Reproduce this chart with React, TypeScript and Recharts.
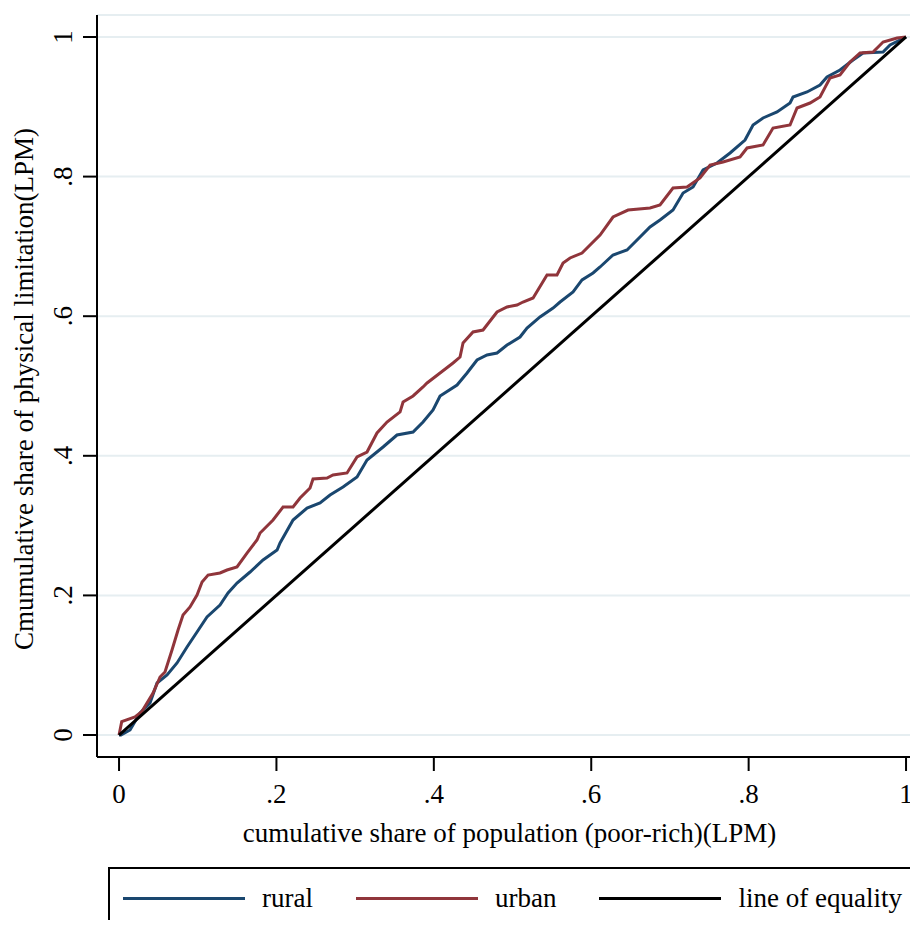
import React from 'react';
import { LineChart, Line, XAxis, YAxis, CartesianGrid } from 'recharts';

const tickValues = [0, 0.2, 0.4, 0.6, 0.8, 1];
const tickLabels = ['0', '.2', '.4', '.6', '.8', '1'];

const xTitle = 'cumulative share of population (poor-rich)(LPM)';
const yTitle = 'Cmumulative share of physical limitation(LPM)';

const ruralPoints: [number, number][] = [
  [0, 0], [0.0025, 0], [0.014, 0.0072], [0.0267, 0.0315], [0.0394, 0.0458], [0.0483, 0.0745],
  [0.061, 0.086], [0.0737, 0.1032], [0.0864, 0.1261], [0.0991, 0.1476], [0.1118, 0.1691],
  [0.1283, 0.1862], [0.1385, 0.2034], [0.1499, 0.2178], [0.1665, 0.2335], [0.183, 0.2507],
  [0.2008, 0.265], [0.2046, 0.2751], [0.2211, 0.308], [0.2389, 0.3252], [0.2554, 0.3324],
  [0.2681, 0.3438], [0.2846, 0.3553], [0.3024, 0.3696], [0.3151, 0.394], [0.3355, 0.4126],
  [0.3532, 0.4298], [0.3736, 0.4341], [0.3863, 0.4484], [0.399, 0.4656], [0.4079, 0.4857],
  [0.4295, 0.5014], [0.4422, 0.5186], [0.4549, 0.5372], [0.4676, 0.5444], [0.4803, 0.5473],
  [0.493, 0.5587], [0.5095, 0.5702], [0.5184, 0.5831], [0.5349, 0.5989], [0.5515, 0.6117],
  [0.5604, 0.6203], [0.5769, 0.6347], [0.5883, 0.6519], [0.6023, 0.6619], [0.6112, 0.6705],
  [0.6277, 0.6877], [0.6455, 0.6948], [0.662, 0.7135], [0.6747, 0.7278], [0.6874, 0.7378],
  [0.7039, 0.7521], [0.7167, 0.7765], [0.7294, 0.7851], [0.7421, 0.8095], [0.7598, 0.8195],
  [0.7764, 0.8338], [0.7954, 0.8524], [0.8056, 0.8739], [0.8183, 0.884], [0.8361, 0.8926],
  [0.8526, 0.9054], [0.8564, 0.914], [0.8742, 0.9212], [0.8907, 0.9312], [0.8996, 0.9427],
  [0.9161, 0.9527], [0.9327, 0.967], [0.9454, 0.9771], [0.9708, 0.9785], [0.9797, 0.9885],
  [1, 1],
];

const urbanPoints: [number, number][] = [
  [0, 0], [0.0034, 0.0191], [0.0203, 0.0258], [0.0288, 0.0334], [0.0432, 0.0602], [0.0521, 0.0831],
  [0.0584, 0.0903], [0.0673, 0.1218], [0.075, 0.1504], [0.0813, 0.1719], [0.0902, 0.1834],
  [0.0991, 0.2006], [0.1055, 0.2192], [0.1131, 0.2292], [0.1283, 0.2321], [0.1372, 0.2364],
  [0.1499, 0.2407], [0.1626, 0.2607], [0.1753, 0.2794], [0.1792, 0.2894], [0.1957, 0.308],
  [0.2084, 0.3266], [0.2211, 0.3266], [0.23, 0.3395], [0.2427, 0.3539], [0.2465, 0.3668],
  [0.2643, 0.3682], [0.2719, 0.3725], [0.2897, 0.3754], [0.3024, 0.3983], [0.3151, 0.4054],
  [0.3278, 0.4327], [0.3405, 0.4484], [0.3571, 0.4628], [0.3609, 0.4771], [0.3736, 0.4857],
  [0.3863, 0.4986], [0.3914, 0.5043], [0.4079, 0.5186], [0.4244, 0.533], [0.4333, 0.5415],
  [0.4371, 0.5616], [0.4498, 0.5774], [0.4625, 0.5802], [0.4803, 0.606], [0.493, 0.6132],
  [0.5057, 0.616], [0.5133, 0.6203], [0.5261, 0.6261], [0.5438, 0.659], [0.5565, 0.659],
  [0.5642, 0.6762], [0.5731, 0.6834], [0.5883, 0.6905], [0.5985, 0.702], [0.6112, 0.7163],
  [0.6277, 0.7421], [0.6468, 0.7521], [0.6747, 0.755], [0.6874, 0.7593], [0.7039, 0.7837],
  [0.7217, 0.7851], [0.7382, 0.798], [0.751, 0.8166], [0.7675, 0.8209], [0.7891, 0.8281],
  [0.798, 0.841], [0.8183, 0.8453], [0.831, 0.8696], [0.8526, 0.8739], [0.8615, 0.8983],
  [0.878, 0.9054], [0.8907, 0.914], [0.9034, 0.9413], [0.9161, 0.9456], [0.9288, 0.9642],
  [0.9416, 0.9771], [0.9581, 0.9785], [0.9708, 0.9928], [0.9886, 0.9986], [1, 1],
];

const equalityPoints: [number, number][] = [[0, 0], [1, 1]];

const series = [
  { name: 'rural', color: '#1a476f', points: ruralPoints },
  { name: 'urban', color: '#90353b', points: urbanPoints },
  { name: 'line of equality', color: '#000000', points: equalityPoints },
];

const FONT = '"Liberation Serif", "Times New Roman", serif';
const FS = 27;

const fmt = (v: number) => {
  const i = tickValues.findIndex((t) => Math.abs(t - v) < 1e-9);
  return i >= 0 ? tickLabels[i] : String(v);
};

const XTick = (props: any) => {
  const { x, y, payload } = props;
  return (
    <text x={x} y={y + 30} textAnchor="middle" fontSize={FS} fontFamily={FONT} fill="#000">
      {fmt(payload.value)}
    </text>
  );
};

const YTick = (props: any) => {
  const { x, y, payload } = props;
  return (
    <text
      transform={`translate(${x - 9},${y}) rotate(-90)`}
      textAnchor="middle"
      fontSize={FS}
      fontFamily={FONT}
      fill="#000"
    >
      {fmt(payload.value)}
    </text>
  );
};

const renderXTitle = (props: any) => {
  const vb = props.viewBox;
  return (
    <text x={vb.x + vb.width / 2 + 2} y={vb.y + 85} textAnchor="middle" fontSize={FS} fontFamily={FONT} fill="#000">
      {xTitle}
    </text>
  );
};

const renderYTitle = (props: any) => {
  const vb = props.viewBox;
  return (
    <text
      transform={`translate(25,${vb.y + vb.height / 2 + 3}) rotate(-90)`}
      textAnchor="middle"
      fontSize={FS}
      fontFamily={FONT}
      fill="#000"
    >
      {yTitle}
    </text>
  );
};

export default function App() {
  return (
    <div style={{ position: 'relative', width: 910, height: 920, overflow: 'hidden', marginBottom: -8, background: '#fff' }}>
      <LineChart width={910} height={920} margin={{ top: 7, right: 0, bottom: 0, left: 0 }}>
        <CartesianGrid vertical={false} stroke="#e6eef1" strokeWidth={2} />
        <XAxis
          type="number"
          dataKey="x"
          domain={[-0.028, 1.0152]}
          allowDataOverflow
          ticks={tickValues}
          tick={<XTick />}
          tickSize={14}
          height={171}
          axisLine={{ stroke: '#000', strokeWidth: 2 }}
          tickLine={{ stroke: '#000', strokeWidth: 2 }}
          label={renderXTitle}
        />
        <YAxis
          type="number"
          dataKey="y"
          domain={[-0.0315, 1.0315]}
          allowDataOverflow
          ticks={tickValues}
          tick={<YTick />}
          tickSize={14}
          width={89}
          axisLine={{ stroke: '#000', strokeWidth: 2 }}
          tickLine={{ stroke: '#000', strokeWidth: 2 }}
          label={renderYTitle}
        />
        {series.map((s) => (
          <Line
            key={s.name}
            name={s.name}
            data={s.points.map(([x, y]) => ({ x, y }))}
            dataKey="y"
            type="linear"
            stroke={s.color}
            strokeWidth={3}
            dot={false}
            activeDot={false}
            isAnimationActive={false}
          />
        ))}
      </LineChart>
      <div
        style={{
          position: 'absolute',
          left: 100,
          top: 859,
          width: 808,
          height: 100,
          border: '2px solid #000',
          boxSizing: 'border-box',
          background: '#fff',
        }}
      >
        <div
          style={{
            position: 'absolute',
            left: 13,
            top: 13,
            display: 'flex',
            alignItems: 'center',
            gap: 43,
            fontFamily: FONT,
            fontSize: FS,
            lineHeight: '32px',
            whiteSpace: 'nowrap',
          }}
        >
          {series.map((s) => (
            <div key={s.name} style={{ display: 'flex', alignItems: 'center', gap: 17 }}>
              <div style={{ width: 122, height: 3, background: s.color }} />
              <span>{s.name}</span>
            </div>
          ))}
        </div>
      </div>
    </div>
  );
}
